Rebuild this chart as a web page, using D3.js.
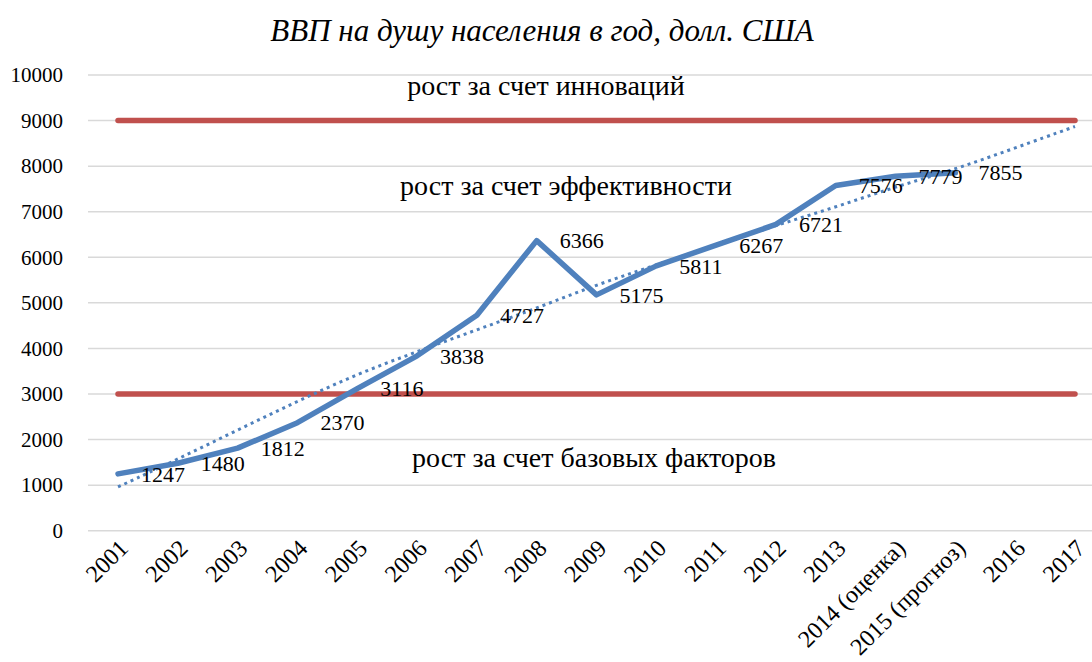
<!DOCTYPE html>
<html>
<head>
<meta charset="utf-8">
<script src="https://cdn.jsdelivr.net/npm/d3@7"></script>
<style>
  body { margin: 0; background: #fff; }
  svg { display: block; font-family: "Liberation Serif", "Times New Roman", serif; }
</style>
</head>
<body>
<div id="chart"></div>
<script>
// categories and values
const years = ["2001", "2002", "2003", "2004", "2005", "2006", "2007", "2008", "2009",
  "2010", "2011", "2012", "2013", "2014 (оценка)", "2015 (прогноз)", "2016", "2017"];
const gdp = [1247, 1480, 1812, 2370, 3116, 3838, 4727, 6366, 5175, 5811, 6267, 6721, 7576, 7779, 7855];
const trend = [960, 1570, 2210, 2840, 3440, 3930, 4410, 4880, 5400, 5830, 6270, 6700, 7100, 7550, 7930, 8400, 8870];
const borders = [3000, 9000];
const yTicks = [0, 1000, 2000, 3000, 4000, 5000, 6000, 7000, 8000, 9000, 10000];
const zones = [
  {text: "рост за счет инноваций", level: 9560, cx: 546},
  {text: "рост за счет эффективности", level: 7370, cx: 566},
  {text: "рост за счет базовых факторов", level: 1400, cx: 594}
];

const width = 1092;
const height = 662;

const x = d3.scalePoint()
    .domain(years)
    .range([118, 1075]);
const y = d3.scaleLinear()
    .domain([0, 10000])
    .range([530.7, 75]);

const svg = d3.select("#chart").append("svg")
    .attr("width", width)
    .attr("height", height);

// title
svg.append("text")
    .attr("x", 542)
    .attr("y", 41)
    .attr("text-anchor", "middle")
    .style("font-style", "italic")
    .style("font-size", "31px")
    .text("ВВП на душу населения в год, долл. США");

// grid
svg.append("g")
    .selectAll("line")
    .data(yTicks)
    .join("line")
    .attr("x1", 88)
    .attr("x2", width + 20)
    .attr("y1", d => y(d))
    .attr("y2", d => y(d))
    .attr("stroke", "#d9d9d9")
    .attr("stroke-width", 1.5);

// y axis labels
svg.append("g")
    .attr("transform", "translate(70,0)")
    .call(d3.axisLeft(y).tickValues(yTicks).tickFormat(d3.format("d")).tickSize(0).tickPadding(7))
    .call(g => g.select(".domain").remove())
    .selectAll("text")
    .style("font-family", "'Liberation Serif', serif")
    .style("font-size", "21px")
    .attr("fill", "#000");

// x axis labels (rotated)
svg.append("g")
    .attr("transform", `translate(0,${y(0)})`)
    .call(d3.axisBottom(x).tickSize(0).tickPadding(0))
    .call(g => g.select(".domain").remove())
    .selectAll("text")
    .style("font-family", "'Liberation Serif', serif")
    .style("font-size", "24px")
    .attr("fill", "#000")
    .attr("text-anchor", "end")
    .attr("transform", "translate(5,13) rotate(-45)")
    .attr("dy", "0.35em");

// border lines
svg.append("g")
    .selectAll("line")
    .data(borders)
    .join("line")
    .attr("x1", x(years[0]))
    .attr("x2", x(years[years.length - 1]))
    .attr("y1", d => y(d))
    .attr("y2", d => y(d))
    .attr("stroke", "#c0504d")
    .attr("stroke-width", 5.5)
    .attr("stroke-linecap", "round");

// trend (dotted)
svg.append("path")
    .datum(trend)
    .attr("fill", "none")
    .attr("stroke", "#4f81bd")
    .attr("stroke-width", 3)
    .attr("stroke-dasharray", "3 4")
    .attr("d", d3.line()
        .x((d, i) => x(years[i]))
        .y(d => y(d))
        .curve(d3.curveBasis));

// main series
svg.append("path")
    .datum(gdp)
    .attr("fill", "none")
    .attr("stroke", "#4f81bd")
    .attr("stroke-width", 5.5)
    .attr("stroke-linejoin", "round")
    .attr("stroke-linecap", "round")
    .attr("d", d3.line()
        .x((d, i) => x(years[i]))
        .y(d => y(d)));

// data labels
svg.append("g")
    .selectAll("text")
    .data(gdp)
    .join("text")
    .attr("x", (d, i) => x(years[i]) + 23)
    .attr("y", d => y(d))
    .attr("dy", "0.35em")
    .style("font-size", "22px")
    .text(d => d);

// zone captions
svg.append("g")
    .selectAll("text")
    .data(zones)
    .join("text")
    .attr("x", d => d.cx)
    .attr("y", d => y(d.level))
    .attr("text-anchor", "middle")
    .style("font-size", "28px")
    .text(d => d.text);
</script>
</body>
</html>
